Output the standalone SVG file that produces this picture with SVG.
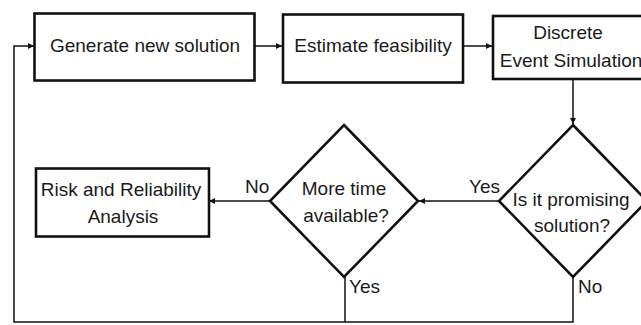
<svg xmlns="http://www.w3.org/2000/svg" width="641" height="325" viewBox="0 0 641 325">
<style>
  .node { fill: #ffffff; stroke: #111111; stroke-width: 2.6; }
  .txt { font-family: "Liberation Sans", Arial, sans-serif; font-size: 19px; fill: #1a1a1a; }
  .mid { text-anchor: middle; }
  .end { text-anchor: end; }
  .conn { fill: none; stroke: #111111; stroke-width: 1.5; }
</style>
<defs>
  <marker id="arr" viewBox="0 0 8 8" refX="8" refY="4" markerWidth="6" markerHeight="6" markerUnits="userSpaceOnUse" orient="auto">
    <path d="M0,0 L8,4 L0,8 Z" fill="#111111"/>
  </marker>
</defs>
<rect width="641" height="325" fill="#ffffff"/>

<g id="connectors">
  <path class="conn" d="M254,46 L282,46" marker-end="url(#arr)"/>
  <path class="conn" d="M463,46 L492,46" marker-end="url(#arr)"/>
  <path class="conn" d="M573,79 L573,124" marker-end="url(#arr)"/>
  <path class="conn" d="M499,201 L419,201" marker-end="url(#arr)"/>
  <path class="conn" d="M270,201 L209,201" marker-end="url(#arr)"/>
  <path class="conn" d="M573,277 L573,322 L14,322 L14,46 L34,46" marker-end="url(#arr)"/>
  <path class="conn" d="M345,277 L345,322"/>
  <text class="txt" x="245" y="193">No</text>
  <text class="txt end" x="500" y="193">Yes</text>
  <text class="txt" x="349" y="293">Yes</text>
  <text class="txt" x="578" y="293">No</text>
</g>

<g id="generate">
  <rect class="node" x="34.5" y="13.5" width="220" height="67"/>
  <text class="txt mid" x="145" y="52">Generate new solution</text>
</g>

<g id="estimate">
  <rect class="node" x="283" y="14.5" width="180" height="68"/>
  <text class="txt mid" x="373" y="52">Estimate feasibility</text>
</g>

<g id="des">
  <rect class="node" x="493" y="16" width="155" height="63"/>
  <text class="txt mid" x="568" y="38.5">Discrete</text>
  <text class="txt mid" x="571" y="66.5">Event Simulation</text>
</g>

<g id="promising">
  <polygon class="node" points="573,125 647,201 573,277 499,201"/>
  <text class="txt mid" x="571" y="206">Is it promising</text>
  <text class="txt mid" x="572" y="232">solution?</text>
</g>

<g id="moretime">
  <polygon class="node" points="344,125 418,201 344,277 270,201"/>
  <text class="txt mid" x="344" y="195">More time</text>
  <text class="txt mid" x="346" y="222">available?</text>
</g>

<g id="risk">
  <rect class="node" x="36" y="168.5" width="173" height="68"/>
  <text class="txt mid" x="121" y="196">Risk and Reliability</text>
  <text class="txt mid" x="123" y="223">Analysis</text>
</g>
</svg>
